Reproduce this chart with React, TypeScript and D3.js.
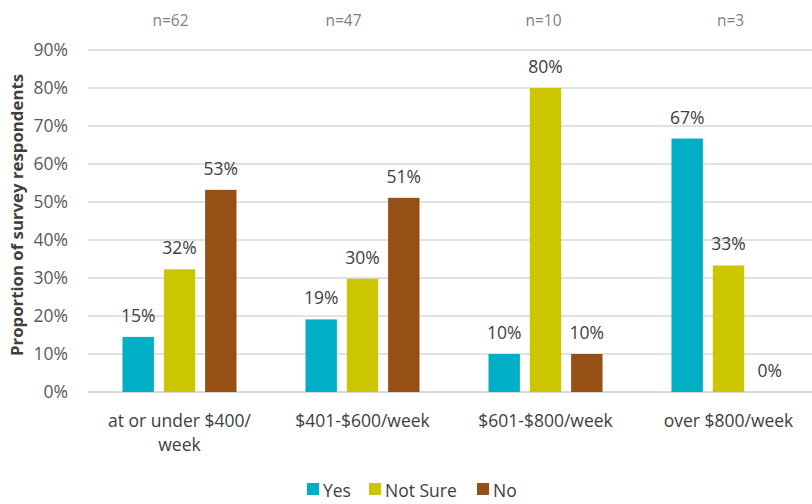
import React from "react";
import * as d3 from "d3";

const categories = ["at or under $400/\nweek", "$401-$600/week", "$601-$800/week", "over $800/week"];
const nLabels = ["n=62", "n=47", "n=10", "n=3"];
const seriesNames = ["Yes", "Not Sure", "No"];
const yesValues = [14.5, 19.1, 10, 66.7];
const notSureValues = [32.3, 29.8, 80, 33.3];
const noValues = [53.2, 51.1, 10, 0];
const colors = ["#00AEC6", "#CCC600", "#964F14"];
const yTicks = [0, 10, 20, 30, 40, 50, 60, 70, 80, 90];

const W = 812;
const H = 504;
const FONT = "'Open Sans', sans-serif";

export default function App() {
  const left = 88;
  const right = 820;
  const x = d3.scaleBand<number>().domain([0, 1, 2, 3]).range([left, right]);
  const y = d3.scaleLinear().domain([0, 90]).range([392, 50]);
  const seriesX = d3.scaleBand<number>().domain([0, 1, 2]).range([-57, 57]).paddingInner(0.24);
  const series = [yesValues, notSureValues, noValues];
  const nOffsets = [-9, -19, -2, 2];

  return (
    <svg width={W} height={H} style={{ position: "absolute", left: 0, top: 0, background: "#fff" }} fontFamily={FONT}>
      {yTicks.map((t) => (
        <g key={t}>
          <line x1={left} x2={W} y1={y(t)} y2={y(t)} stroke="#d9d9d9" strokeWidth={t === 0 ? 1.8 : 1.3} />
          <text x={68} y={y(t)} dy="0.36em" textAnchor="end" fontSize={17.5} fill="#595959">
            {t}%
          </text>
        </g>
      ))}
      <text
        transform={`translate(23,${215}) rotate(-90)`}
        textAnchor="middle"
        fontSize={16.8}
        fontWeight="bold"
        fill="#404040"
      >
        Proportion of survey respondents
      </text>
      {categories.map((c, i) => {
        const cx = (x(i) as number) + x.bandwidth() / 2;
        return (
          <g key={c}>
            <text x={cx + nOffsets[i]} y={26} textAnchor="middle" fontSize={15.5} fill="#7f7f7f">
              {nLabels[i]}
            </text>
            {series.map((vals, s) => {
              const bx = cx + (seriesX(s) as number);
              const bw = seriesX.bandwidth();
              return (
                <g key={s}>
                  <rect x={bx} y={y(vals[i])} width={bw} height={y(0) - y(vals[i])} fill={colors[s]} />
                  <text x={bx + bw / 2} y={y(vals[i]) - 15} textAnchor="middle" fontSize={17.5} fill="#404040">
                    {Math.round(vals[i])}%
                  </text>
                </g>
              );
            })}
            {c.split("\n").map((line, k) => (
              <text key={k} x={cx} y={427 + k * 24} textAnchor="middle" fontSize={17.5} fill="#404040">
                {line}
              </text>
            ))}
          </g>
        );
      })}
      {(() => {
        const items = [
          { name: seriesNames[0], x: 307 },
          { name: seriesNames[1], x: 369 },
          { name: seriesNames[2], x: 477 },
        ];
        return items.map((it, s) => (
          <g key={it.name}>
            <rect x={it.x} y={483} width={12} height={12} fill={colors[s]} />
            <text x={it.x + 16} y={497} fontSize={17.5} fill="#404040">
              {it.name}
            </text>
          </g>
        ));
      })()}
    </svg>
  );
}
